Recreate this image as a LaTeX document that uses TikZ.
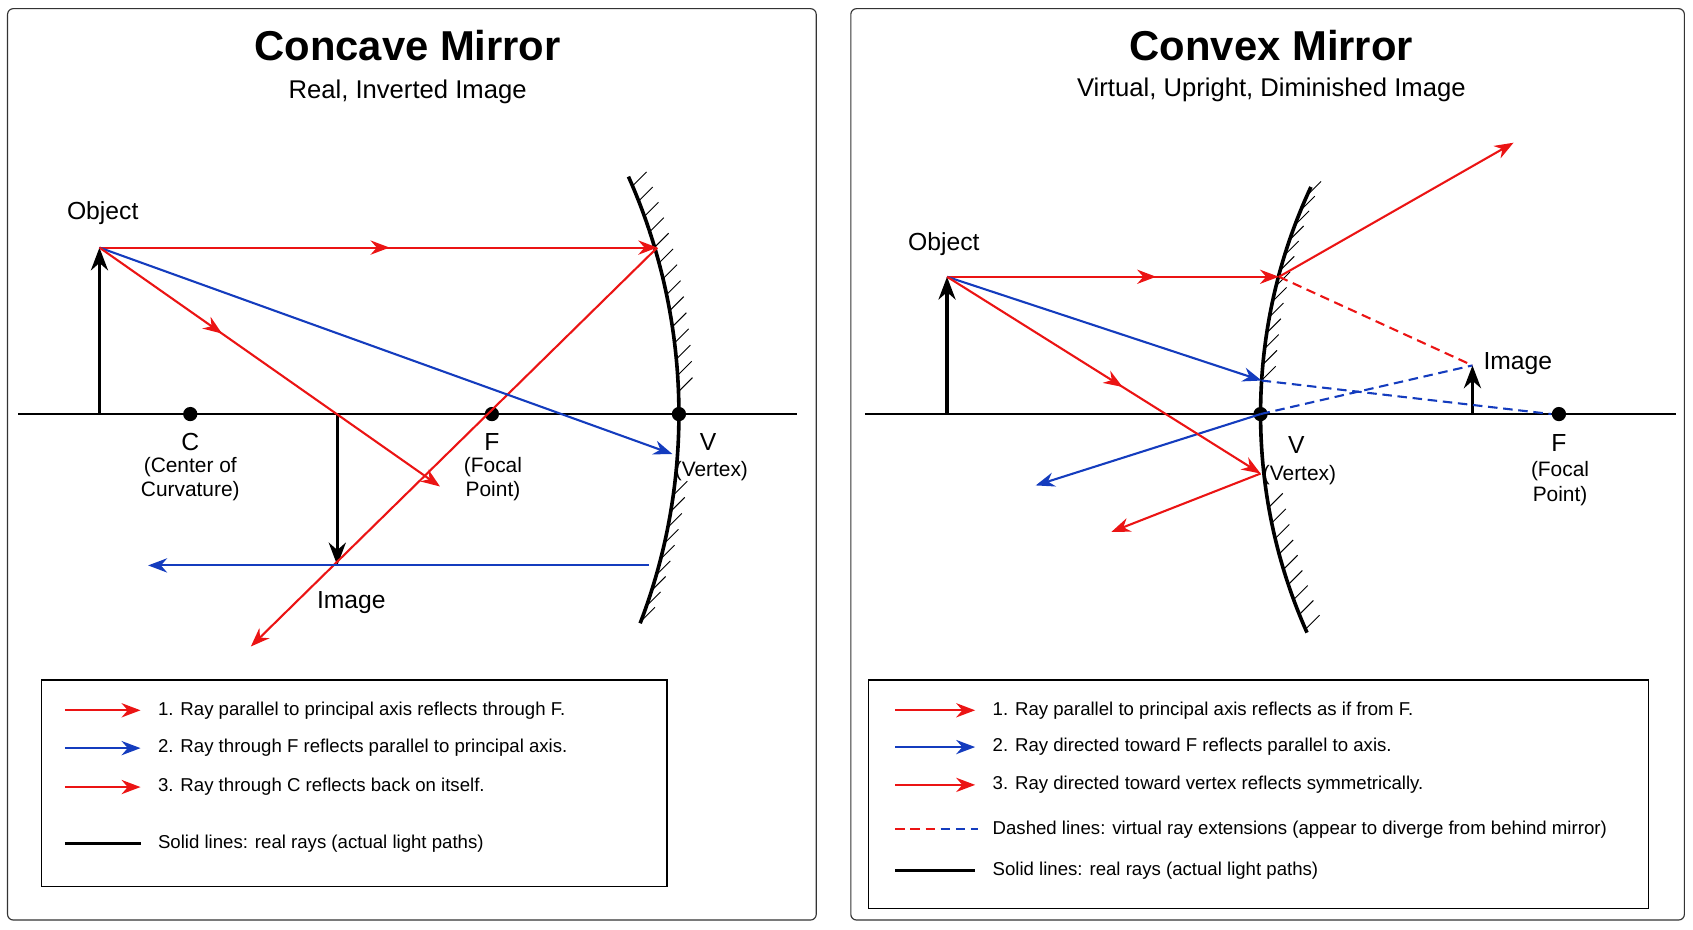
\documentclass[tikz,border=0pt]{standalone}
\usepackage{fontspec}
\setmainfont{Liberation Sans}
\usetikzlibrary{arrows.meta,decorations.markings,calc}

\tikzset{
  ray/.style={line width=1.1pt,-{Stealth[length=10pt,width=7.5pt]}},
  midarrow/.style={postaction={decorate},decoration={markings,
    mark=at position #1 with {\arrow{Stealth[length=10pt,width=7.5pt]}}}},
  virt/.style={line width=1.1pt,dash pattern=on 5pt off 3pt},
  dot/.style={circle,fill=black,inner sep=0pt,minimum size=7.5pt},
  lbl/.style={font=\fontsize{13}{15}\selectfont},
  small/.style={font=\fontsize{11}{13}\selectfont,align=center},
  leg/.style={font=\fontsize{9.8}{12}\selectfont,anchor=west},
  panel/.style={draw=black!80,line width=0.6pt,rounded corners=3pt},
  objarrow/.style={line width=1.7pt,-{Stealth[length=12pt,width=9pt]}}
}
\definecolor{rred}{RGB}{235,20,20}
\definecolor{rblue}{RGB}{20,60,190}

\begin{document}
\begin{tikzpicture}[x=0.02cm,y=-0.02cm]
\useasboundingbox (0,0) rectangle (1566,860);

% Left panel - concave mirror
\begin{scope}
\draw[panel] (7,8) rectangle (755,851);
\node[font=\fontsize{22}{26}\selectfont\bfseries] at (377,42) {Concave Mirror};
\node[font=\fontsize{13.5}{16}\selectfont] at (377,85) {Real, Inverted Image};
\coordinate (axL) at (17,383); \coordinate (axR) at (737,383);
\draw[line width=1.4pt] (axL) -- (axR);
% mirror
\draw[line width=1.9pt] (88,383) ++(-24:540) arc[start angle=-24,end angle=21,radius=540];
\foreach \a in {-23,-21.4,...,-1} \draw[line width=0.5pt] ($(88,383)+(\a:540)$) -- ++(13,-13);
\foreach \a in {8,9.6,...,21} \draw[line width=0.5pt] ($(88,383)+(\a:540)$) -- ++(13,-13);
\node[dot] (C) at (176,383) {};
\node[dot] (F) at (455,383) {};
\node[dot] (V) at (628,383) {};
\node[lbl] at (176,409) {C};
\node[small] at (176,443) {(Center of\\Curvature)};
\node[lbl] at (455,409) {F};
\node[small] at (456,443) {(Focal\\Point)};
\node[lbl] at (655,409) {V};
\node[small] at (658,436) {(Vertex)};
% object and image
\coordinate (ob) at (92,383); \coordinate (ot) at (92,229);
\coordinate (ib) at (312,383); \coordinate (it) at (312,523);
\draw[objarrow] (ob) -- (ot);
\draw[objarrow] (ib) -- (it);
\node[lbl] at (95,197) {Object};
\node[lbl] at (325,557) {Image};
% rays
\coordinate (m1) at (608,229); \coordinate (e1) at (232,598);
\coordinate (m2) at (622,420); \coordinate (m2b) at (600,523); \coordinate (e2) at (137,523);
\coordinate (e3) at (407,450);
\draw[ray,rred,midarrow=0.52] (ot) -- (m1);
\draw[ray,rred] (m1) -- (e1);
\draw[ray,rblue] (ot) -- (m2);
\draw[ray,rblue] (m2b) -- (e2);
\draw[ray,rred,midarrow=0.36] (ot) -- (e3);
% legend
\draw[line width=0.6pt] (38,629) rectangle (617,820);
\draw[ray,rred] (60,657) -- (130,657);
\node[leg] at (140,657) {1. Ray parallel to principal axis reflects through F.};
\draw[ray,rblue] (60,692) -- (130,692);
\node[leg] at (140,692) {2. Ray through F reflects parallel to principal axis.};
\draw[ray,rred] (60,728) -- (130,728);
\node[leg] at (140,728) {3. Ray through C reflects back on itself.};
\draw[line width=1.4pt] (60,780) -- (130,780);
\node[leg] at (140,780) {Solid lines: real rays (actual light paths)};
\end{scope}

% Right panel - convex mirror
\begin{scope}
\draw[panel] (787,8) rectangle (1558,851);
\node[font=\fontsize{22}{26}\selectfont\bfseries] at (1176,42) {Convex Mirror};
\node[font=\fontsize{13.5}{16}\selectfont] at (1176,83) {Virtual, Upright, Diminished Image};
\coordinate (axL2) at (800,383); \coordinate (axR2) at (1550,383);
\draw[line width=1.4pt] (axL2) -- (axR2);
% mirror
\draw[line width=1.9pt] (1663,383) ++(205:497) arc[start angle=205,end angle=156,radius=497];
\foreach \a in {204,202.3,...,182} \draw[line width=0.5pt] ($(1663,383)+(\a:497)$) -- ++(13,-13);
\foreach \a in {170,168.3,...,156} \draw[line width=0.5pt] ($(1663,383)+(\a:497)$) -- ++(13,-13);
\node[dot] (V2) at (1166,383) {};
\node[dot] (F2) at (1442,383) {};
\node[lbl] at (1199,412) {V};
\node[small] at (1202,439) {(Vertex)};
\node[lbl] at (1442,410) {F};
\node[small] at (1443,447) {(Focal\\Point)};
% object and image
\coordinate (ob2) at (876,383); \coordinate (ot2) at (876,256);
\coordinate (ib2) at (1362,383); \coordinate (it2) at (1362,338);
\draw[objarrow] (ob2) -- (ot2);
\draw[objarrow] (ib2) -- (it2);
\node[lbl] at (873,226) {Object};
\node[lbl] at (1404,336) {Image};
% rays
\coordinate (n1) at (1183,256); \coordinate (f1) at (1400,132);
\coordinate (n2) at (1167,352); \coordinate (f2) at (958,449);
\coordinate (n3) at (1166,438); \coordinate (f3) at (1028,492);
\coordinate (fF) at (1435,383);
\draw[virt,rred] (n1) -- (it2);
\draw[virt,rblue] (n2) -- (fF);
\draw[virt,rblue] (V2.center) -- (it2);
\draw[ray,rred,midarrow=0.63] (ot2) -- (n1);
\draw[ray,rred] (n1) -- (f1);
\draw[ray,rblue] (ot2) -- (n2);
\draw[ray,rblue] (V2.center) -- (f2);
\draw[ray,rred,midarrow=0.56] (ot2) -- (n3);
\draw[ray,rred] (n3) -- (f3);
% legend
\draw[line width=0.6pt] (803,629) rectangle (1525,840);
\draw[ray,rred] (828,657) -- (902,657);
\node[leg] at (912,657) {1. Ray parallel to principal axis reflects as if from F.};
\draw[ray,rblue] (828,691) -- (902,691);
\node[leg] at (912,691) {2. Ray directed toward F reflects parallel to axis.};
\draw[ray,rred] (828,726) -- (902,726);
\node[leg] at (912,726) {3. Ray directed toward vertex reflects symmetrically.};
\draw[virt,rred] (828,767) -- (865,767);
\draw[virt,rblue] (870,767) -- (905,767);
\node[leg] at (912,767) {Dashed lines: virtual ray extensions (appear to diverge from behind mirror)};
\draw[line width=1.4pt] (828,805) -- (902,805);
\node[leg] at (912,805) {Solid lines: real rays (actual light paths)};
\end{scope}
\end{tikzpicture}
\end{document}
